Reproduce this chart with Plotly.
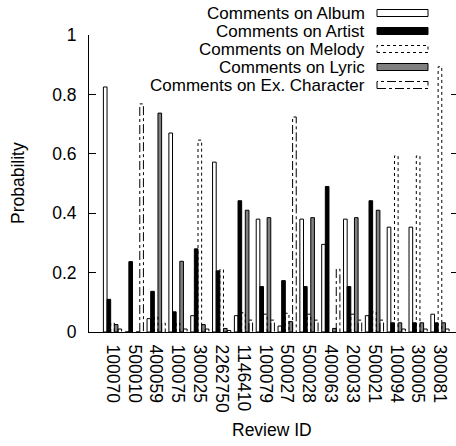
import plotly.graph_objects as go

review_ids = ["100070", "500010", "400059", "100075", "300025", "2262750", "1146410", "100079",
              "500027", "500028", "400063", "200033", "500021", "100094", "300005", "300081"]
album  = [0.825, 0.0, 0.045, 0.67, 0.055, 0.572, 0.055, 0.38, 0.02, 0.38, 0.295, 0.38, 0.055, 0.353, 0.353, 0.06]
artist = [0.11, 0.237, 0.137, 0.068, 0.28, 0.206, 0.442, 0.153, 0.173, 0.153, 0.49, 0.153, 0.442, 0.031, 0.031, 0.031]
melody = [0.03, 0.0, 0.05, 0.03, 0.646, 0.21, 0.065, 0.06, 0.063, 0.06, 0.0, 0.06, 0.068, 0.593, 0.593, 0.893]
lyric  = [0.025, 0.0, 0.737, 0.238, 0.025, 0.012, 0.41, 0.385, 0.035, 0.385, 0.012, 0.385, 0.41, 0.031, 0.031, 0.031]
exchar = [0.01, 0.768, 0.03, 0.01, 0.01, 0.005, 0.04, 0.04, 0.724, 0.04, 0.212, 0.04, 0.04, 0.01, 0.01, 0.01]

series_names = ["Comments on Album", "Comments on Artist", "Comments on Melody",
                "Comments on Lyric", "Comments on Ex. Character"]

FONT = "Liberation Sans, Arial, Helvetica, sans-serif"
FS = 17.5
LFS = 17
W, H = 456, 446
L, R, T, B = 89, 0, 35, 114
PW, PH = W - L - R, H - T - B

bw = 1.0 / 6.0
pos = list(range(len(review_ids)))


def offs(k):
    return [p + (k - 2) * bw for p in pos]


fig = go.Figure()

# filled bars
fig.add_trace(go.Bar(x=offs(0), y=album, width=bw, name=series_names[0],
                     marker=dict(color="white", line=dict(color="black", width=1)), showlegend=False))
fig.add_trace(go.Bar(x=offs(1), y=artist, width=bw, name=series_names[1],
                     marker=dict(color="black", line=dict(color="black", width=1)), showlegend=False))
fig.add_trace(go.Bar(x=offs(3), y=lyric, width=bw, name=series_names[3],
                     marker=dict(color="#808080", line=dict(color="black", width=1)), showlegend=False))


def outline(k, vals):
    xs, ys = [], []
    for xc, v in zip(offs(k), vals):
        if v <= 0:
            continue
        x0, x1 = xc - bw / 2, xc + bw / 2
        xs += [x0, x0, x1, x1, None]
        ys += [0, v, v, 0, None]
    return xs, ys


mx, my = outline(2, melody)
fig.add_trace(go.Scatter(x=mx, y=my, mode="lines", name=series_names[2],
                         line=dict(color="black", width=1, dash="dot"), showlegend=False))
ex, ey = outline(4, exchar)
fig.add_trace(go.Scatter(x=ex, y=ey, mode="lines", name=series_names[4],
                         line=dict(color="black", width=1, dash="dashdot"), showlegend=False))
fig.add_trace(go.Scatter(x=[None], y=[None], yaxis="y2", showlegend=False, hoverinfo="skip"))

x_lo = -(112.5 - L) / 21.83
x_hi = (W - 112.5) / 21.83


def px(x):
    return (x - L) / PW


def py(y):
    return (T + PH - y) / PH


# manual legend (text left, sample right)
rows = [13.5, 31.5, 49.5, 67.5, 85.5]
styles = [
    dict(fillcolor="white", line=dict(color="black", width=1)),
    dict(fillcolor="black", line=dict(color="black", width=1)),
    dict(fillcolor="rgba(0,0,0,0)", line=dict(color="black", width=1, dash="dot")),
    dict(fillcolor="#808080", line=dict(color="black", width=1)),
    dict(fillcolor="rgba(0,0,0,0)", line=dict(color="black", width=1, dash="dashdot")),
]
annotations = []
shapes = []
for name, ry, st in zip(series_names, rows, styles):
    annotations.append(dict(text=name, x=px(367), y=py(ry), xref="paper", yref="paper",
                            xanchor="right", yanchor="middle", showarrow=False,
                            font=dict(family=FONT, size=LFS, color="black")))
    shapes.append(dict(type="rect", xref="paper", yref="paper",
                       x0=px(377), x1=px(428), y0=py(ry + 3), y1=py(ry - 4), **st))

annotations.append(dict(text="Probability", x=px(17.5), y=0.5, xref="paper", yref="paper",
                        textangle=-90, xanchor="center", yanchor="middle", showarrow=False,
                        font=dict(family=FONT, size=FS, color="black")))
annotations.append(dict(text="Review ID", x=px(272), y=py(430), xref="paper", yref="paper",
                        xanchor="center", yanchor="middle", showarrow=False,
                        font=dict(family=FONT, size=FS, color="black")))

yt = [0, 0.2, 0.4, 0.6, 0.8, 1]
fig.update_layout(
    width=W, height=H,
    margin=dict(l=L, r=R, t=T, b=B, pad=0),
    paper_bgcolor="white", plot_bgcolor="white",
    barmode="overlay",
    font=dict(family=FONT, size=FS, color="black"),
    xaxis=dict(range=[x_lo, x_hi], tickvals=pos, ticktext=review_ids, tickangle=90,
               ticks="", showline=True, linecolor="black", linewidth=1,
               showgrid=False, zeroline=False, ticklabelstandoff=8,
               tickfont=dict(family=FONT, size=FS, color="black")),
    yaxis=dict(range=[0, 1], tickvals=yt, ticktext=["0", "0.2", "0.4", "0.6", "0.8", "1"],
               ticks="inside", ticklen=7, tickcolor="black", showline=True, linecolor="black",
               linewidth=1, showgrid=False, zeroline=False, ticklabelstandoff=8,
               tickfont=dict(family=FONT, size=FS, color="black")),
    yaxis2=dict(range=[0, 1], overlaying="y", side="right", tickvals=yt, ticks="inside",
                ticklen=5, tickcolor="black", showticklabels=False, showline=False,
                showgrid=False, zeroline=False),
    annotations=annotations,
    shapes=shapes,
)

fig.write_html("out.html")
